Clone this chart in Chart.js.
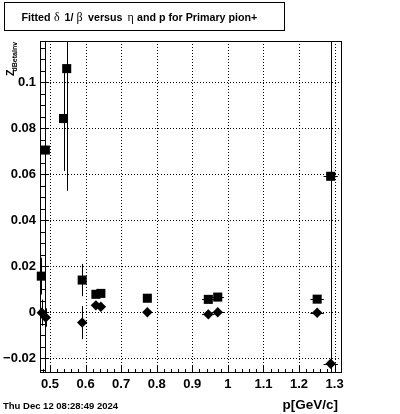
<!DOCTYPE html>
<html><head><meta charset="utf-8">
<script src="https://cdn.jsdelivr.net/npm/chart.js@4/dist/chart.umd.min.js"></script>
<style>html,body{margin:0;padding:0;background:#fff}#c{display:block}</style>
</head><body>
<canvas id="c" width="400" height="414"></canvas>
<script>
// ---- data ----
const squareX  = [0.4755, 0.487, 0.538, 0.547, 0.5905, 0.629, 0.643, 0.7736, 0.945, 0.9715, 1.251, 1.289];
const squareY  = [0.0157, 0.0705, 0.0842, 0.1059, 0.0140, 0.0078, 0.0082, 0.0061, 0.0056, 0.0066, 0.0057, 0.0591];
const squareEY = [0.0080, 0.2000, 0.0228, 0.0531, 0.0070, 0.0012, 0.0015, 0.0008, 0.0008, 0.0008, 0.0008, 0.3000];
const squareEX = [0.002, 0.002, 0.002, 0.002, 0.003, 0.003, 0.003, 0.008, 0.0175, 0.0175, 0.019, 0.020];
const diamondX  = [0.477, 0.488, 0.5905, 0.629, 0.643, 0.7736, 0.945, 0.9715, 1.251, 1.289];
const diamondY  = [-0.0002, -0.0023, -0.0045, 0.0030, 0.0024, 0.0000, -0.0009, 0.0000, -0.0002, -0.0224];
const diamondEY = [0.0057, 0.0040, 0.0072, 0.0010, 0.0010, 0.0008, 0.0008, 0.0008, 0.0008, 0.0010];
const diamondEX = [0.002, 0.002, 0.003, 0.003, 0.003, 0.008, 0.0175, 0.0175, 0.019, 0.020];
const xTicks = [0.5, 0.6, 0.7, 0.8, 0.9, 1.0, 1.1, 1.2, 1.3];
const yTicks = [-0.02, 0, 0.02, 0.04, 0.06, 0.08, 0.1];
const xRange = [0.4747, 1.318];
const yRange = [-0.0264, 0.1179];
const titleText = "Fitted δ 1/β versus η and p for Primary pion+";
const xTitle = "p[GeV/c]";
const yTitleMain = "Z";
const yTitleSub = "dBetaInv";
const dateText = "Thu Dec 12 08:28:49 2024";

function pts(xs, ys, exs, eys){ return xs.map((x,i)=>({x:x, y:ys[i], ex:exs[i], ey:eys[i]})); }

const fmtX = v => { const r = Math.round(v*10)/10; return String(r); };
const fmtY = v => { const r = Math.round(v*100)/100; return r < 0 ? '\u2212' + String(-r) : String(r); };

const errPlugin = {
  id: 'errs',
  beforeDatasetsDraw(chart){
    const {ctx, chartArea:a, scales:{x, y}} = chart;
    ctx.save();
    // grid
    ctx.strokeStyle = '#000'; ctx.lineWidth = 1; ctx.setLineDash([1,2]);
    xTicks.forEach(v => { const px = Math.round(x.getPixelForValue(v)) + 0.5;
      ctx.beginPath(); ctx.moveTo(px, a.top); ctx.lineTo(px, a.bottom); ctx.stroke(); });
    yTicks.forEach(v => { const py = Math.round(y.getPixelForValue(v)) + 0.5;
      ctx.beginPath(); ctx.moveTo(a.left, py); ctx.lineTo(a.right, py); ctx.stroke(); });
    ctx.setLineDash([]);
    // error bars
    ctx.beginPath(); ctx.rect(a.left, a.top, a.right - a.left, a.bottom - a.top); ctx.clip();
    chart.data.datasets.forEach(ds => {
      ds.data.forEach(p => {
        const px = Math.round(x.getPixelForValue(p.x)) + 0.5;
        const py = Math.round(y.getPixelForValue(p.y)) + 0.5;
        ctx.beginPath();
        ctx.moveTo(px, y.getPixelForValue(p.y - p.ey)); ctx.lineTo(px, y.getPixelForValue(p.y + p.ey));
        ctx.moveTo(x.getPixelForValue(p.x - p.ex), py); ctx.lineTo(x.getPixelForValue(p.x + p.ex), py);
        ctx.stroke();
      });
    });
    ctx.restore();
  },
  afterDraw(chart){
    const {ctx, chartArea:a, scales:{x, y}} = chart;
    ctx.save();
    ctx.strokeStyle = '#000'; ctx.lineWidth = 1;
    // frame
    ctx.strokeRect(a.left - 0.5, a.top + 0.5, a.right - a.left + 1, a.bottom - a.top - 1);
    // ticks
    ctx.beginPath();
    for (let k = 0; ; k++) { const v = 0.48 + 0.02*k; if (v > xRange[1]) break;
      const isMaj = xTicks.some(t => Math.abs(t - v) < 1e-6);
      const px = Math.round(x.getPixelForValue(v)) + 0.5;
      ctx.moveTo(px, a.bottom); ctx.lineTo(px, a.bottom - (isMaj ? 8 : 4)); }
    for (let k = 0; ; k++) { const v = -0.025 + 0.005*k; if (v > yRange[1]) break;
      const isMaj = yTicks.some(t => Math.abs(t - v) < 1e-6);
      const py = Math.round(y.getPixelForValue(v)) + 0.5;
      ctx.moveTo(a.left, py); ctx.lineTo(a.left + (isMaj ? 8 : 4), py); }
    ctx.stroke();
    // title box
    ctx.fillStyle = '#fff'; ctx.fillRect(4, 2, 281, 29);
    ctx.strokeRect(4.5, 2.5, 280, 28);
    ctx.fillStyle = '#000'; ctx.textBaseline = 'alphabetic'; ctx.textAlign = 'left';
    const bold = 'bold 10.7px "Liberation Sans", Arial, sans-serif';
    const greek = '12px "Liberation Serif", "Times New Roman", serif';
    const parts = titleText.split(/([δβη])/);
    const xs = [21.5, 54, 64.5, 76.5, 88, 127.5, 137];
    parts.forEach((s, i) => {
      const isG = /[δβη]/.test(s);
      ctx.font = isG ? greek : bold;
      ctx.fillText(s.trim(), xs[i], 20.5);
    });
    // x title
    ctx.font = 'bold 13.5px "Liberation Sans", Arial, sans-serif';
    ctx.textAlign = 'right';
    ctx.fillText(xTitle, 338, 409);
    // date
    ctx.font = 'bold 9.5px "Liberation Sans", Arial, sans-serif';
    ctx.textAlign = 'left';
    ctx.fillText(dateText, 3, 408.5);
    // y title
    ctx.save(); ctx.translate(13.5, 76); ctx.rotate(-Math.PI/2);
    ctx.font = 'bold 10.5px "Liberation Sans", Arial, sans-serif';
    ctx.fillText(yTitleMain, 0, 0);
    ctx.restore();
    ctx.save(); ctx.translate(17, 71.5); ctx.rotate(-Math.PI/2);
    ctx.font = 'bold 7px "Liberation Sans", Arial, sans-serif';
    ctx.fillText(yTitleSub, 0, 0);
    ctx.restore();
    ctx.restore();
  }
};

const tickFont = {family: '"Liberation Sans", Arial, sans-serif', size: 13, weight: 'bold'};

new Chart(document.getElementById('c'), {
  type: 'scatter',
  data: { datasets: [
    { label: 'squares', data: pts(squareX, squareY, squareEX, squareEY), pointStyle: 'rect',
      pointRadius: 6.4, pointHoverRadius: 6.4, backgroundColor: '#000', borderColor: '#000', borderWidth: 0, clip: false },
    { label: 'diamonds', data: pts(diamondX, diamondY, diamondEX, diamondEY), pointStyle: 'rectRot',
      pointRadius: 5.2, pointHoverRadius: 5.2, backgroundColor: '#000', borderColor: '#000', borderWidth: 0, clip: false }
  ]},
  options: {
    responsive: false, animation: false, devicePixelRatio: 1,
    events: [],
    layout: { padding: { left: 0, right: 59, top: 41, bottom: 0 } },
    plugins: { legend: {display: false}, tooltip: {enabled: false}, title: {display: false} },
    scales: {
      x: { type: 'linear', min: xRange[0], max: xRange[1],
        afterBuildTicks: s => { s.ticks = xTicks.map(v => ({value: v})); },
        afterFit: s => { s.height = 41; },
        grid: { display: false, drawTicks: false }, border: { display: false },
        ticks: { font: tickFont, color: '#000', padding: 4, maxRotation: 0, autoSkip: false, callback: v => fmtX(v) } },
      y: { type: 'linear', min: yRange[0], max: yRange[1],
        afterBuildTicks: s => { s.ticks = yTicks.map(v => ({value: v})); },
        afterFit: s => { s.width = 41; },
        grid: { display: false, drawTicks: false }, border: { display: false },
        ticks: { font: tickFont, color: '#000', padding: 5, autoSkip: false, callback: v => fmtY(v) } }
    }
  },
  plugins: [errPlugin]
});
</script>
</body></html>
